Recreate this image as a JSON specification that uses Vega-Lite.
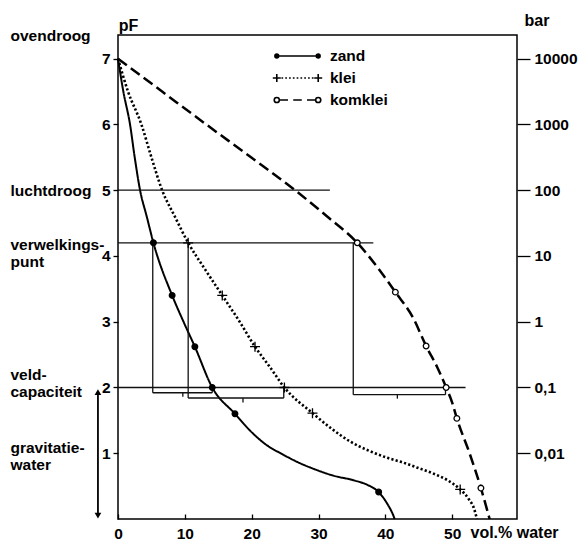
{
  "$schema": "https://vega.github.io/schema/vega-lite/v6.json",
  "width": 399,
  "height": 484,
  "autosize": {"type": "none"},
  "padding": {"left": 118, "top": 35, "right": 69, "bottom": 22},
  "background": "white",
  "datasets": {
    "curves": [
      {"soil": "zand", "vol": 0, "pF": 7, "m": 0},
      {"soil": "zand", "vol": 0.8, "pF": 6.5, "m": 0},
      {"soil": "zand", "vol": 1.8, "pF": 6, "m": 0},
      {"soil": "zand", "vol": 2.5, "pF": 5.5, "m": 0},
      {"soil": "zand", "vol": 3.3, "pF": 5, "m": 0},
      {"soil": "zand", "vol": 4.3, "pF": 4.6, "m": 0},
      {"soil": "zand", "vol": 5.3, "pF": 4.2, "m": 1},
      {"soil": "zand", "vol": 8.1, "pF": 3.4, "m": 1},
      {"soil": "zand", "vol": 9.8, "pF": 3.0, "m": 0},
      {"soil": "zand", "vol": 11.5, "pF": 2.62, "m": 1},
      {"soil": "zand", "vol": 14.1, "pF": 2.0, "m": 1},
      {"soil": "zand", "vol": 17.5, "pF": 1.6, "m": 1},
      {"soil": "zand", "vol": 19.8, "pF": 1.34, "m": 0},
      {"soil": "zand", "vol": 22.3, "pF": 1.12, "m": 0},
      {"soil": "zand", "vol": 24.5, "pF": 0.99, "m": 0},
      {"soil": "zand", "vol": 27.2, "pF": 0.85, "m": 0},
      {"soil": "zand", "vol": 29.6, "pF": 0.75, "m": 0},
      {"soil": "zand", "vol": 32.2, "pF": 0.66, "m": 0},
      {"soil": "zand", "vol": 35.2, "pF": 0.59, "m": 0},
      {"soil": "zand", "vol": 37.3, "pF": 0.52, "m": 0},
      {"soil": "zand", "vol": 39.0, "pF": 0.41, "m": 1},
      {"soil": "zand", "vol": 40.3, "pF": 0.23, "m": 0},
      {"soil": "zand", "vol": 41.0, "pF": 0.1, "m": 0},
      {"soil": "zand", "vol": 41.4, "pF": 0, "m": 0},
      {"soil": "klei", "vol": 0, "pF": 7, "m": 0},
      {"soil": "klei", "vol": 1.5, "pF": 6.5, "m": 0},
      {"soil": "klei", "vol": 3.5, "pF": 6, "m": 0},
      {"soil": "klei", "vol": 5.0, "pF": 5.5, "m": 0},
      {"soil": "klei", "vol": 6.6, "pF": 5, "m": 0},
      {"soil": "klei", "vol": 8.5, "pF": 4.6, "m": 0},
      {"soil": "klei", "vol": 10.5, "pF": 4.2, "m": 1},
      {"soil": "klei", "vol": 13.0, "pF": 3.8, "m": 0},
      {"soil": "klei", "vol": 15.6, "pF": 3.4, "m": 1},
      {"soil": "klei", "vol": 18.2, "pF": 3.0, "m": 0},
      {"soil": "klei", "vol": 20.5, "pF": 2.62, "m": 1},
      {"soil": "klei", "vol": 22.8, "pF": 2.3, "m": 0},
      {"soil": "klei", "vol": 24.9, "pF": 2.0, "m": 1},
      {"soil": "klei", "vol": 29.1, "pF": 1.61, "m": 1},
      {"soil": "klei", "vol": 32.0, "pF": 1.37, "m": 0},
      {"soil": "klei", "vol": 34.7, "pF": 1.18, "m": 0},
      {"soil": "klei", "vol": 37.5, "pF": 1.04, "m": 0},
      {"soil": "klei", "vol": 40.3, "pF": 0.93, "m": 0},
      {"soil": "klei", "vol": 42.6, "pF": 0.86, "m": 0},
      {"soil": "klei", "vol": 44.8, "pF": 0.78, "m": 0},
      {"soil": "klei", "vol": 47.2, "pF": 0.69, "m": 0},
      {"soil": "klei", "vol": 49.3, "pF": 0.59, "m": 0},
      {"soil": "klei", "vol": 51.2, "pF": 0.45, "m": 1},
      {"soil": "klei", "vol": 52.5, "pF": 0.3, "m": 0},
      {"soil": "klei", "vol": 53.3, "pF": 0.15, "m": 0},
      {"soil": "klei", "vol": 53.7, "pF": 0, "m": 0},
      {"soil": "komklei", "vol": 0, "pF": 7, "m": 0},
      {"soil": "komklei", "vol": 6.6, "pF": 6.5, "m": 0},
      {"soil": "komklei", "vol": 13.2, "pF": 6, "m": 0},
      {"soil": "komklei", "vol": 19.9, "pF": 5.5, "m": 0},
      {"soil": "komklei", "vol": 26.5, "pF": 5, "m": 0},
      {"soil": "komklei", "vol": 31.3, "pF": 4.6, "m": 0},
      {"soil": "komklei", "vol": 35.8, "pF": 4.2, "m": 1},
      {"soil": "komklei", "vol": 38.8, "pF": 3.83, "m": 0},
      {"soil": "komklei", "vol": 41.5, "pF": 3.45, "m": 1},
      {"soil": "komklei", "vol": 44.2, "pF": 3.05, "m": 0},
      {"soil": "komklei", "vol": 46.1, "pF": 2.63, "m": 1},
      {"soil": "komklei", "vol": 47.8, "pF": 2.3, "m": 0},
      {"soil": "komklei", "vol": 49.1, "pF": 2.0, "m": 1},
      {"soil": "komklei", "vol": 50.0, "pF": 1.77, "m": 0},
      {"soil": "komklei", "vol": 50.7, "pF": 1.53, "m": 1},
      {"soil": "komklei", "vol": 52.6, "pF": 1.0, "m": 0},
      {"soil": "komklei", "vol": 54.3, "pF": 0.47, "m": 1},
      {"soil": "komklei", "vol": 55.6, "pF": 0, "m": 0}
    ],
    "refs": [
      {"y": 5, "x1": 0, "x2": 31.7},
      {"y": 4.2, "x1": 0, "x2": 38.2},
      {"y": 2, "x1": 0, "x2": 52}
    ],
    "braces": [
      {"soil": "zand", "x1": 5.2, "x2": 14.1, "xm": 9.7, "ytop": 4.2, "yb": 1.92, "ytip": 1.86, "ycurve": 2},
      {"soil": "klei", "x1": 10.5, "x2": 24.8, "xm": 18.7, "ytop": 4.2, "yb": 1.84, "ytip": 1.77, "ycurve": 2},
      {"soil": "komklei", "x1": 35.2, "x2": 49.0, "xm": 41.8, "ytop": 4.2, "yb": 1.89, "ytip": 1.83, "ycurve": 2}
    ],
    "arrow": [
      {"x": -3, "ytop": 1.93, "ybot": 0.05}
    ]
  },
  "resolve": {"scale": {"y": "independent"}},
  "layer": [
    {
      "resolve": {"scale": {"shape": "independent"}, "legend": {"shape": "independent"}},
      "layer": [
        {
          "data": {"name": "curves"},
          "mark": {"type": "line", "interpolate": "monotone", "color": "black", "strokeCap": "butt"},
          "encoding": {
            "x": {"field": "vol", "type": "quantitative", "scale": {"domain": [0, 59.7], "nice": false, "zero": false},
              "axis": {"values": [0, 10, 20, 30, 40, 50], "format": "d", "tickSize": -5, "labelPadding": 12, "domain": false, "labelFlush": false,
                "title": "vol.% water", "titleX": 352, "titleY": 13, "titleAlign": "left", "titleBaseline": "middle", "titleAngle": 0}},
            "y": {"field": "pF", "type": "quantitative", "scale": {"domain": [0, 7.36], "nice": false},
              "axis": {"orient": "left", "values": [1, 2, 3, 4, 5, 6, 7], "format": "d", "tickSize": 5, "labelPadding": 3, "domain": false, "labelFlush": false,
                "labelBaseline": "middle", "title": "pF", "titleAngle": 0, "titleX": 10, "titleY": -10, "titleAlign": "center", "titleBaseline": "middle"}},
            "detail": {"field": "soil", "type": "nominal"},
            "strokeDash": {"condition": [{"test": "datum.soil === 'klei'", "value": [2.2, 2.2]}, {"test": "datum.soil === 'komklei'", "value": [11, 5]}], "value": [1, 0]},
            "strokeWidth": {"condition": [{"test": "datum.soil === 'klei'", "value": 2.6}, {"test": "datum.soil === 'komklei'", "value": 2.5}], "value": 2}
          }
        },
        {
          "data": {"name": "refs"},
          "mark": {"type": "rule", "color": "#111", "strokeWidth": 1.3},
          "encoding": {
            "x": {"field": "x1", "type": "quantitative"},
            "x2": {"field": "x2"},
            "y": {"field": "y", "type": "quantitative"}
          }
        },
        {
          "data": {"name": "braces"},
          "mark": {"type": "rule", "color": "#111", "strokeWidth": 1.3},
          "encoding": {
            "x": {"field": "x1", "type": "quantitative"},
            "y": {"field": "ytop", "type": "quantitative"},
            "y2": {"field": "yb"}
          }
        },
        {
          "data": {"name": "braces"},
          "mark": {"type": "rule", "color": "#111", "strokeWidth": 1.3},
          "encoding": {
            "x": {"field": "x1", "type": "quantitative"},
            "x2": {"field": "x2"},
            "y": {"field": "yb", "type": "quantitative"}
          }
        },
        {
          "data": {"name": "braces"},
          "mark": {"type": "rule", "color": "#111", "strokeWidth": 1.3},
          "encoding": {
            "x": {"field": "x2", "type": "quantitative"},
            "y": {"field": "yb", "type": "quantitative"},
            "y2": {"field": "ycurve"}
          }
        },
        {
          "data": {"name": "braces"},
          "mark": {"type": "rule", "color": "#111", "strokeWidth": 1.3},
          "encoding": {
            "x": {"field": "xm", "type": "quantitative"},
            "y": {"field": "yb", "type": "quantitative"},
            "y2": {"field": "ytip"}
          }
        },
        {
          "data": {"name": "arrow"},
          "mark": {"type": "rule", "color": "black", "strokeWidth": 1.8},
          "encoding": {
            "x": {"field": "x", "type": "quantitative"},
            "y": {"field": "ytop", "type": "quantitative"},
            "y2": {"field": "ybot"}
          }
        },
        {
          "data": {"name": "arrow"},
          "mark": {"type": "point", "shape": "triangle-up", "filled": true, "color": "black", "size": 45, "opacity": 1},
          "encoding": {
            "x": {"field": "x", "type": "quantitative"},
            "y": {"field": "ytop", "type": "quantitative"}
          }
        },
        {
          "data": {"name": "arrow"},
          "mark": {"type": "point", "shape": "triangle-down", "filled": true, "color": "black", "size": 45, "opacity": 1},
          "encoding": {
            "x": {"field": "x", "type": "quantitative"},
            "y": {"field": "ybot", "type": "quantitative"}
          }
        },
        {
          "data": {"name": "curves"},
          "transform": [{"filter": "datum.m == 1"}],
          "mark": {"type": "point", "filled": true, "stroke": "black", "strokeWidth": 1.3, "opacity": 1},
          "encoding": {
            "x": {"field": "vol", "type": "quantitative"},
            "y": {"field": "pF", "type": "quantitative"},
            "shape": {"field": "soil", "type": "nominal",
              "scale": {"domain": ["zand", "klei", "komklei"], "range": ["circle", "M-1,0L1,0M0,-1L0,1", "circle"]},
              "legend": null},
            "size": {"condition": {"test": "datum.soil === 'klei'", "value": 100}, "value": 32},
            "fill": {"condition": {"test": "datum.soil === 'komklei'", "value": "white"}, "value": "black"}
          }
        },
        {
          "data": {"name": "curves"},
          "transform": [{"filter": "false"}],
          "mark": {"type": "point", "filled": false, "color": "black", "strokeWidth": 1.6, "opacity": 1},
          "encoding": {
            "shape": {"field": "soil", "type": "nominal",
              "scale": {"domain": ["zand", "klei", "komklei"], "range": [
                "M-2.18,0L2.18,0M-2.38,0A0.2,0.2,0,1,0,-1.98,0A0.2,0.2,0,1,0,-2.38,0M-2.25,0A0.07,0.07,0,1,0,-2.11,0A0.07,0.07,0,1,0,-2.25,0M1.98,0A0.2,0.2,0,1,0,2.38,0A0.2,0.2,0,1,0,1.98,0M2.11,0A0.07,0.07,0,1,0,2.25,0A0.07,0.07,0,1,0,2.11,0",
                "M-2.18,-0.42L-2.18,0.42M-2.6,0L-1.76,0M2.18,-0.42L2.18,0.42M1.76,0L2.6,0M-1.69,0h0.18M-1.29,0h0.18M-0.89,0h0.18M-0.49,0h0.18M-0.09,0h0.18M0.31,0h0.18M0.71,0h0.18M1.11,0h0.18M1.51,0h0.18",
                "M-1.91,0L-1,0M-0.45,0L0.45,0M1,0L1.91,0M-2.45,0A0.27,0.27,0,1,0,-1.91,0A0.27,0.27,0,1,0,-2.45,0M1.91,0A0.27,0.27,0,1,0,2.45,0A0.27,0.27,0,1,0,1.91,0"
              ]},
              "legend": {
                "orient": "none", "legendX": 169, "legendY": 10.5, "title": null, "padding": 0,
                "rowPadding": 3, "symbolSize": 361, "symbolStrokeWidth": 1.6, "symbolOffset": 0, "symbolStrokeColor": "black",
                "labelOffset": 22, "labelFont": "Liberation Sans", "labelFontSize": 15.5, "labelFontWeight": "bold", "labelColor": "black"
              }}
          }
        }
      ]
    },
    {
      "data": {"name": "refs"},
      "mark": {"type": "point", "opacity": 0},
      "encoding": {
        "y": {"field": "y", "type": "quantitative", "scale": {"domain": [0, 7.36], "nice": false},
          "axis": {"orient": "right", "values": [1, 2, 3, 4, 5, 6, 7],
            "labelExpr": "datum.value == 7 ? '10000' : datum.value == 6 ? '1000' : datum.value == 5 ? '100' : datum.value == 4 ? '10' : datum.value == 3 ? '1' : datum.value == 2 ? '0,1' : '0,01'",
            "tickSize": 13, "labelPadding": 4, "domain": false, "labelFlush": false, "labelBaseline": "middle",
            "title": "bar", "titleAngle": 0, "titleX": 19.5, "titleY": -15, "titleAlign": "center", "titleBaseline": "middle"}}
      }
    },
    {
      "data": {"name": "refs"},
      "mark": {"type": "point", "opacity": 0},
      "encoding": {
        "y": {"field": "y", "type": "quantitative", "scale": {"domain": [0, 7.36], "nice": false},
          "axis": {"orient": "left", "values": [7.36, 5, 4.17, 2.2, 1.09],
            "labelExpr": "datum.value > 7 ? 'ovendroog' : datum.value == 5 ? 'luchtdroog' : datum.value > 4 ? ['verwelkings-', 'punt'] : datum.value > 2 ? ['veld-', 'capaciteit'] : ['gravitatie-', 'water']",
            "ticks": false, "tickSize": 0, "domain": false, "labelAlign": "left", "labelPadding": 108, "labelLineHeight": 17,
            "labelBound": false, "labelOverlap": false, "labelFlush": false, "labelBaseline": "middle", "title": null}}
      }
    }
  ],
  "config": {
    "font": "Liberation Sans",
    "view": {"stroke": "black", "strokeWidth": 1.5},
    "axis": {
      "grid": false,
      "labelFont": "Liberation Sans", "labelFontSize": 15.5, "labelFontWeight": "bold", "labelColor": "black",
      "titleFont": "Liberation Sans", "titleFontSize": 16, "titleFontWeight": "bold", "titleColor": "black",
      "tickColor": "black", "tickWidth": 1.3, "domainColor": "black"
    }
  }
}
